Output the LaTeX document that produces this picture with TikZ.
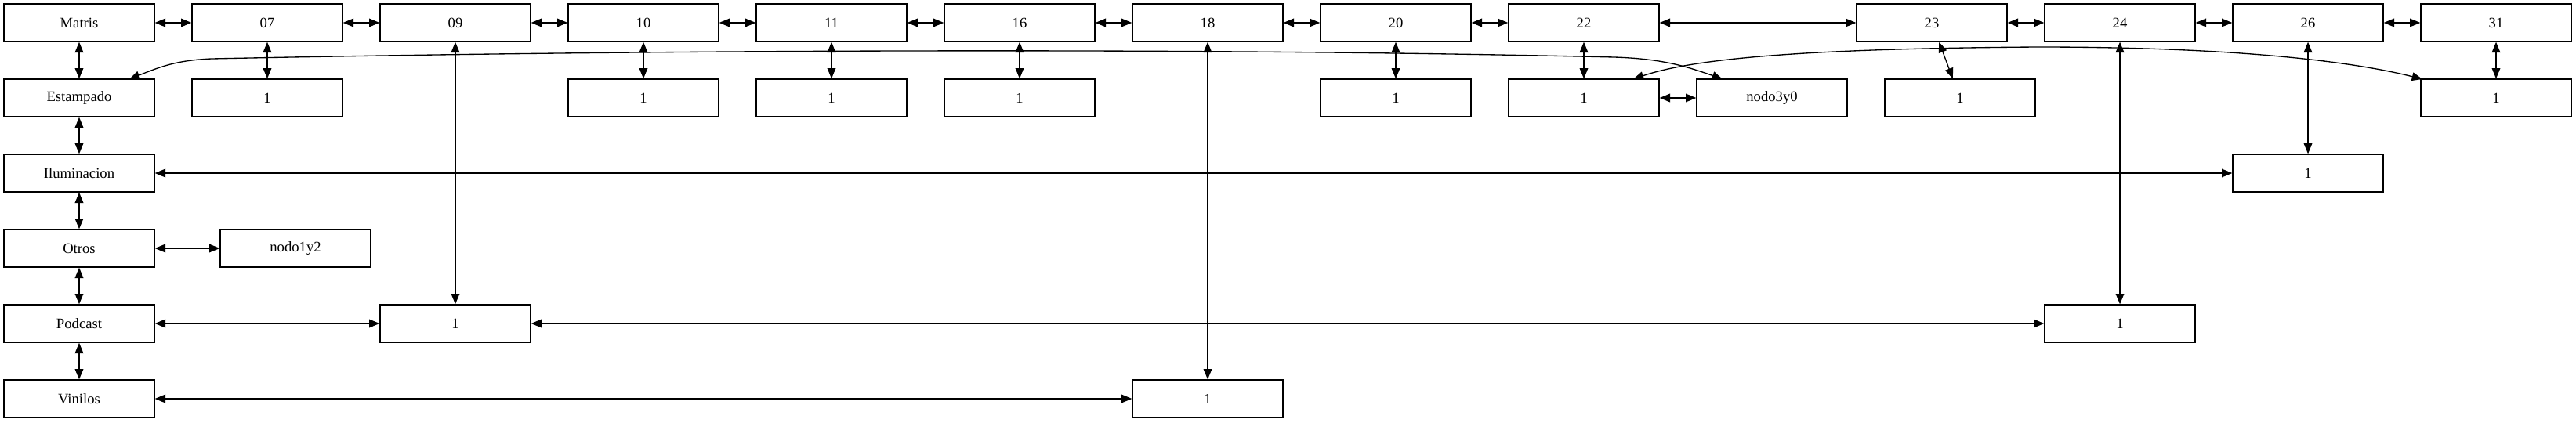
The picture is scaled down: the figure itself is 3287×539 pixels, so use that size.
\documentclass[tikz,border=0pt]{standalone}
\usepackage{fontspec}
\setmainfont{Liberation Serif}
\usetikzlibrary{arrows.meta,calc}
\begin{document}
\begin{tikzpicture}[x=0.75pt,y=-0.75pt,
  box/.style={draw, line width=1pt, minimum width=144pt, minimum height=36pt, inner sep=0pt, font=\fontsize{14}{16}\selectfont},
  link/.style={{Triangle[length=10pt,width=8pt]}-{Triangle[length=10pt,width=8pt]}, line width=1pt}]
\useasboundingbox (0,0) rectangle (3287,539);
% row 1
\node[box] (m)   at (101,29)  {Matris};
\node[box] (c07) at (341,29)  {07};
\node[box] (c09) at (581,29)  {09};
\node[box] (c10) at (821,29)  {10};
\node[box] (c11) at (1061,29) {11};
\node[box] (c16) at (1301,29) {16};
\node[box] (c18) at (1541,29) {18};
\node[box] (c20) at (1781,29) {20};
\node[box] (c22) at (2021,29) {22};
\node[box] (c23) at (2465,29) {23};
\node[box] (c24) at (2705,29) {24};
\node[box] (c26) at (2945,29) {26};
\node[box] (c31) at (3185,29) {31};
% row 2
\node[box] (est)  at (101,125)  {Estampado};
\node[box] (o07)  at (341,125)  {1};
\node[box] (o10)  at (821,125)  {1};
\node[box] (o11)  at (1061,125) {1};
\node[box] (o16)  at (1301,125) {1};
\node[box] (o20)  at (1781,125) {1};
\node[box] (o22)  at (2021,125) {1};
\node[box] (n3y0) at (2261,125) {nodo3y0};
\node[box] (o23)  at (2501,125) {1};
\node[box] (o31)  at (3185,125) {1};
% row 3
\node[box] (ilu) at (101,221)  {Iluminacion};
\node[box] (o26) at (2945,221) {1};
% row 4
\node[box] (otr)  at (101,317) {Otros};
\node[box] (n1y2) at (377,317) {nodo1y2};
% row 5
\node[box] (pod) at (101,413)  {Podcast};
\node[box] (o09) at (581,413)  {1};
\node[box] (o24) at (2705,413) {1};
% row 6
\node[box] (vin) at (101,509)  {Vinilos};
\node[box] (o18) at (1541,509) {1};

% top chain
\draw[link] (m) -- (c07);
\draw[link] (c07) -- (c09);
\draw[link] (c09) -- (c10);
\draw[link] (c10) -- (c11);
\draw[link] (c11) -- (c16);
\draw[link] (c16) -- (c18);
\draw[link] (c18) -- (c20);
\draw[link] (c20) -- (c22);
\draw[link] (c22) -- (c23);
\draw[link] (c23) -- (c24);
\draw[link] (c24) -- (c26);
\draw[link] (c26) -- (c31);
% verticals row1-row2
\draw[link] (m) -- (est);
\draw[link] (c07) -- (o07);
\draw[link] (c10) -- (o10);
\draw[link] (c11) -- (o11);
\draw[link] (c16) -- (o16);
\draw[link] (c20) -- (o20);
\draw[link] (c22) -- (o22);
\draw[link] (c23) -- (o23);
\draw[link] (c31) -- (o31);
\draw[link] (o22) -- (n3y0);
% left column
\draw[link] (est) -- (ilu);
\draw[link] (ilu) -- (otr);
\draw[link] (otr) -- (pod);
\draw[link] (pod) -- (vin);
\draw[link] (otr) -- (n1y2);
% long links
\draw[link] (c09) -- (o09);
\draw[link] (pod) -- (o09);
\draw[link] (o09) -- (o24);
\draw[link] (c24) -- (o24);
\draw[link] (ilu) -- (o26);
\draw[link] (c26) -- (o26);
\draw[link] (vin) -- (o18);
\draw[link] (c18) -- (o18);
% curved links
\draw[link] ($(est.center)+(64,-24)$) .. controls (205,85) and (225,77) .. (270,75)
  .. controls (800,64) and (1500,60) .. (2060,73)
  .. controls (2120,75) and (2150,84) .. ($(n3y0.center)+(-63,-24)$);
\draw[link] ($(o22.center)+(63,-24)$) .. controls (2160,75) and (2300,62) .. (2600,60)
  .. controls (2850,60) and (3000,78) .. ($(o31.center)+(-94,-24)$);
\end{tikzpicture}
\end{document}
